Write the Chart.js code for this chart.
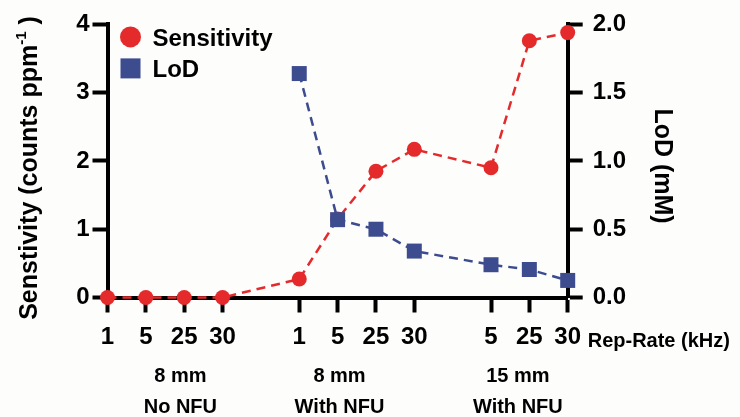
<!DOCTYPE html>
<html>
<head>
<meta charset="utf-8">
<script src="https://cdn.jsdelivr.net/npm/chart.js@4.4.0/dist/chart.umd.min.js"></script>
<style>
  html, body { margin: 0; padding: 0; background: #fdfdfc; }
  #wrap { width: 740px; height: 417px; }
</style>
</head>
<body>
<div id="wrap"><canvas id="repRateChart" width="740" height="417"></canvas></div>
<script>
// rep-rate sweeps, one list per nozzle setup
const groupNames = [['8 mm', 'No NFU'], ['8 mm', 'With NFU'], ['15 mm', 'With NFU']];
const repRates = [['1', '5', '25', '30'], ['1', '5', '25', '30'], ['5', '25', '30']];
const sensitivity = [[0, 0, 0, 0], [0.27, 1.15, 1.85, 2.17], [1.9, 3.76, 3.88]];
const lod = [[null, null, null, null], [1.64, 0.57, 0.5, 0.34], [0.24, 0.205, 0.125]];
const sensTicks = [0, 1, 2, 3, 4];
const lodTicks = [0, 0.5, 1, 1.5, 2];

const FONT = "'Liberation Sans', Arial, sans-serif";
const RED = '#e52a2c';
const BLUE = '#3d4b8f';
const groupLabelAt = [1.9, 6.05, 10.7];

// flatten the groups, leaving an empty slot between them
const labels = [];
const sensData = [];
const lodData = [];
repRates.forEach((rates, g) => {
  if (g > 0) {
    labels.push('');
    sensData.push(null);
    lodData.push(null);
  }
  rates.forEach((r, i) => {
    labels.push(r);
    sensData.push(sensitivity[g][i]);
    lodData.push(lod[g][i]);
  });
});

Chart.defaults.font.family = FONT;
Chart.defaults.color = '#000';

const annotate = {
  id: 'annotate',
  beforeDraw(chart) {
    const { ctx, width, height } = chart;
    ctx.save();
    ctx.fillStyle = '#fdfdfc';
    ctx.fillRect(0, 0, width, height);
    ctx.restore();
  },
  afterDraw(chart) {
    const { ctx, chartArea, scales: { x } } = chart;
    ctx.save();
    ctx.fillStyle = '#000';

    // x axis name sits at the end of the tick row
    ctx.font = 'bold 20px ' + FONT;
    ctx.textAlign = 'left';
    ctx.textBaseline = 'alphabetic';
    ctx.fillText('Rep-Rate (kHz)', x.right + 20, x.top + 49);

    // setup names under each group
    ctx.textAlign = 'center';
    groupNames.forEach((lines, g) => {
      const cx = x.getPixelForValue(groupLabelAt[g]);
      lines.forEach((t, i) => ctx.fillText(t, cx, x.top + 84 + i * 31.5));
    });

    // left axis title with superscript
    const main = 'Senstivity (counts ppm';
    const sup = '-1';
    const tail = ' )';
    ctx.save();
    ctx.translate(37, 168);
    ctx.rotate(-Math.PI / 2);
    ctx.font = 'bold 25px ' + FONT;
    const w1 = ctx.measureText(main).width;
    const w3 = ctx.measureText(tail).width;
    ctx.font = 'bold 15px ' + FONT;
    const w2 = ctx.measureText(sup).width;
    let sx = -(w1 + w2 + w3) / 2;
    ctx.textAlign = 'left';
    ctx.font = 'bold 25px ' + FONT;
    ctx.fillText(main, sx, 0);
    ctx.font = 'bold 15px ' + FONT;
    ctx.fillText(sup, sx + w1, -11);
    ctx.font = 'bold 25px ' + FONT;
    ctx.fillText(tail, sx + w1 + w2, 0);
    ctx.restore();

    // right axis title
    ctx.save();
    ctx.translate(655, 166);
    ctx.rotate(Math.PI / 2);
    ctx.font = 'bold 25px ' + FONT;
    ctx.textAlign = 'center';
    ctx.fillText('LoD (mM)', 0, 0);
    ctx.restore();

    // legend
    ctx.font = 'bold 24px ' + FONT;
    ctx.textAlign = 'left';
    chart.data.datasets.forEach((ds, i) => {
      const cx = chartArea.left + 23;
      const cy = chartArea.top + 12.5 + i * 31.5;
      ctx.fillStyle = ds.backgroundColor;
      if (ds.pointStyle === 'rect') {
        ctx.fillRect(cx - 10, cy - 10, 20, 20);
      } else {
        ctx.beginPath();
        ctx.arc(cx, cy, 10.5, 0, Math.PI * 2);
        ctx.fill();
      }
      ctx.fillStyle = '#000';
      ctx.fillText(ds.label, cx + 22, cy + 8.6);
    });
    ctx.restore();
  }
};

const ctx = document.getElementById('repRateChart');
new Chart(ctx, {
  type: 'line',
  data: {
    labels,
    datasets: [
      {
        label: 'Sensitivity',
        data: sensData,
        yAxisID: 'ySens',
        borderColor: RED,
        backgroundColor: RED,
        borderWidth: 2.5,
        borderDash: [9, 6],
        pointStyle: 'circle',
        pointRadius: 7.5,
        pointBorderWidth: 0,
        spanGaps: true,
        tension: 0,
        clip: false,
        order: 2
      },
      {
        label: 'LoD',
        data: lodData,
        yAxisID: 'yLod',
        borderColor: BLUE,
        backgroundColor: BLUE,
        borderWidth: 2.5,
        borderDash: [9, 6],
        pointStyle: 'rect',
        pointRadius: 10.6,
        pointBorderWidth: 0,
        spanGaps: true,
        tension: 0,
        clip: false,
        order: 1
      }
    ]
  },
  options: {
    responsive: false,
    animation: false,
    layout: { padding: { top: 20, left: 0, right: 0, bottom: 0 } },
    plugins: {
      legend: { display: false },
      tooltip: { enabled: false }
    },
    scales: {
      x: {
        type: 'category',
        offset: false,
        border: { width: 4, color: '#000' },
        grid: {
          drawOnChartArea: false,
          tickLength: 15,
          tickWidth: 4,
          tickColor: (c) => (labels[c.index] ? '#000' : 'rgba(0,0,0,0)')
        },
        ticks: {
          autoSkip: false,
          maxRotation: 0,
          padding: 10,
          font: { size: 24, weight: 'bold' }
        },
        afterFit: (s) => { s.height = 119.5; }
      },
      ySens: {
        position: 'left',
        min: 0,
        max: 4,
        border: { width: 4, color: '#000' },
        grid: { drawOnChartArea: false, tickLength: 15, tickWidth: 4, tickColor: '#000' },
        ticks: { padding: 3, font: { size: 24, weight: 'bold' } },
        afterBuildTicks: (s) => { s.ticks = sensTicks.map((v) => ({ value: v })); },
        afterFit: (s) => { s.width = 107.5; }
      },
      yLod: {
        position: 'right',
        min: 0,
        max: 2,
        border: { width: 4, color: '#000' },
        grid: { drawOnChartArea: false, tickLength: 15, tickWidth: 4, tickColor: '#000' },
        ticks: {
          padding: 10,
          font: { size: 24, weight: 'bold' },
          callback: (v) => Number(v).toFixed(1)
        },
        afterBuildTicks: (s) => { s.ticks = lodTicks.map((v) => ({ value: v })); },
        afterFit: (s) => { s.width = 172.3; }
      }
    }
  },
  plugins: [annotate]
});
</script>
</body>
</html>
